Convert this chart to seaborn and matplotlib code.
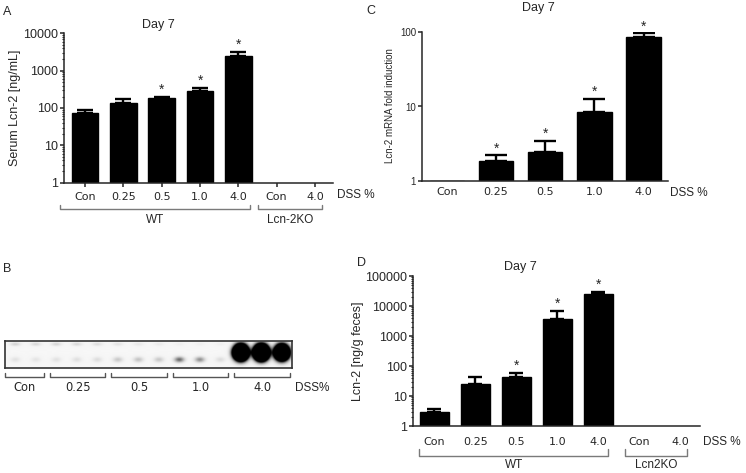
import numpy as np
import matplotlib
matplotlib.use("Agg")
import matplotlib.pyplot as plt
import matplotlib.ticker as mticker
import matplotlib.transforms as mtrans
import seaborn as sns

# ---- data ----
# A: serum Lcn-2 [ng/mL], day 7
a_keys = ["WT Con", "WT 0.25", "WT 0.5", "WT 1.0", "WT 4.0", "KO Con", "KO 4.0"]
a_ticks = ["Con", "0.25", "0.5", "1.0", "4.0", "Con", "4.0"]
a_mean = [75, 138, 183, 285, 2400, np.nan, np.nan]
a_err = [16, 37, 15, 55, 750, np.nan, np.nan]
a_star = [False, False, True, True, True, False, False]
a_groups = ["WT", "Lcn-2KO"]

# C: Lcn-2 mRNA fold induction, day 7
c_keys = ["Con", "0.25", "0.5", "1.0", "4.0"]
c_ticks = ["Con", "0.25", "0.5", "1.0", "4.0"]
c_mean = [1.0, 1.85, 2.45, 8.5, 86]
c_err = [np.nan, 0.35, 0.95, 4.1, 11]
c_star = [False, True, True, True, True]

# D: fecal Lcn-2 [ng/g feces], day 7
d_keys = a_keys
d_ticks = a_ticks
d_mean = [3.0, 25, 44, 3800, 25000, np.nan, np.nan]
d_err = [0.6, 17, 16, 3200, 5000, np.nan, np.nan]
d_star = [False, False, True, True, True, False, False]
d_groups = ["WT", "Lcn2KO"]

# B: western blot, relative band intensity per lane
blot_groups = ["Con", "0.25", "0.5", "1.0", "4.0"]
lanes_per_group = [2, 3, 3, 3, 3]
band_main = [0.08, 0.07, 0.08, 0.09, 0.10, 0.18, 0.20, 0.18, 0.55, 0.40, 0.10, 14, 16, 12]
band_upper = [0.14, 0.12, 0.13, 0.12, 0.10, 0.08, 0.06, 0.05, 0.03, 0.03, 0.03, 0.2, 0.2, 0.2]

sns.set_style("ticks")
plt.rcParams["font.family"] = ["Liberation Sans", "DejaVu Sans"]
plt.rcParams["axes.linewidth"] = 1.1

W, H = 746, 473
fig = plt.figure(figsize=(W / 100, H / 100), dpi=100)


def px(x, y):
    return x / W, 1 - y / H


def add_ax(l, t, r, b):
    return fig.add_axes([l / W, 1 - b / H, (r - l) / W, (b - t) / H])


def bars(ax, keys, means, errs, stars, capsize, ylim):
    sns.barplot(x=keys, y=means, order=keys, color="black", saturation=1,
                width=0.7, errorbar=None, edgecolor="black", ax=ax)
    ax.set_yscale("log")
    ax.set_ylim(*ylim)
    pos = np.arange(len(keys))
    m = np.array(means, dtype=float)
    e = np.array(errs, dtype=float)
    ok = ~np.isnan(e)
    ax.errorbar(pos[ok], m[ok], yerr=[np.zeros(ok.sum()), e[ok]], fmt="none",
                ecolor="black", elinewidth=1.7, capsize=capsize, capthick=1.7)
    for p, mm, ee, s in zip(pos, m, e, stars):
        if s:
            ax.annotate("*", (p, mm + ee), xytext=(0, 0), textcoords="offset points",
                        ha="center", va="bottom", fontsize=10)
    sns.despine(ax=ax)
    ax.set_xlabel("")
    ax.set_ylabel("")


def set_yticks(ax, vals, size, minor=True):
    ax.yaxis.set_major_locator(mticker.FixedLocator(vals))
    ax.yaxis.set_major_formatter(mticker.FixedFormatter([str(v) for v in vals]))
    if minor:
        ax.yaxis.set_minor_locator(mticker.LogLocator(subs=np.arange(2, 10)))
    else:
        ax.yaxis.set_minor_locator(mticker.NullLocator())
    ax.yaxis.set_minor_formatter(mticker.NullFormatter())
    ax.tick_params(axis="y", which="major", length=3, width=1.1, pad=1, labelsize=size)
    ax.tick_params(axis="y", which="minor", length=1.6, width=0.8)


def set_xticks(ax, labels, length, pad):
    ax.set_xticks(range(len(labels)))
    ax.set_xticklabels(labels, fontfamily="DejaVu Sans", fontsize=8)
    ax.tick_params(axis="x", length=length, width=1.1, pad=pad)


def bracket(ax, x0, x1, label, y_line, y_tick, y_text):
    tr = mtrans.blended_transform_factory(ax.transData, ax.transAxes)
    ax.plot([x0, x0, x1, x1], [y_tick, y_line, y_line, y_tick], transform=tr,
            clip_on=False, color="#7a7a7a", lw=1.0)
    ax.text((x0 + x1) / 2, y_text, label, transform=tr, ha="center", va="center",
            fontsize=8.5)


# ---- A ----
axA = add_ax(64, 33.3, 333, 182.7)
bars(axA, a_keys, a_mean, a_err, a_star, 5.8, (1, 10000))
axA.set_xlim(-0.55, 6.47)
set_yticks(axA, [1, 10, 100, 1000, 10000], 9)
set_xticks(axA, a_ticks, 3, 3.6)
bracket(axA, -0.65, 4.31, a_groups[0], -0.178, -0.149, -0.25)
bracket(axA, 4.52, 6.18, a_groups[1], -0.178, -0.149, -0.25)
fig.text(*px(337, 195), "DSS %", ha="left", va="center", fontsize=8.5)
fig.text(*px(15, 108), "Serum Lcn-2 [ng/mL]", rotation=90, ha="center", va="center", fontsize=9)
fig.text(*px(158, 25), "Day 7", ha="center", va="center", fontsize=9)

# ---- C ----
axC = add_ax(421.7, 32.3, 668.3, 180.7)
bars(axC, c_keys, c_mean, c_err, c_star, 8.2, (1, 100))
axC.set_xlim(-0.51, 4.5)
set_yticks(axC, [1, 10, 100], 7, minor=False)
set_xticks(axC, c_ticks, 0, 4.5)
fig.text(*px(670, 193), "DSS %", ha="left", va="center", fontsize=8.5)
fig.text(*px(390, 106), "Lcn-2 mRNA fold induction", rotation=90, ha="center", va="center", fontsize=7)
fig.text(*px(538, 8), "Day 7", ha="center", va="center", fontsize=9)

# ---- D ----
axD = add_ax(412.7, 276, 700, 426)
bars(axD, d_keys, d_mean, d_err, d_star, 4.9, (1, 100000))
axD.set_xlim(-0.53, 6.48)
set_yticks(axD, [1, 10, 100, 1000, 10000, 100000], 9)
set_xticks(axD, d_ticks, 0, 8)
bracket(axD, -0.37, 4.24, d_groups[0], -0.198, -0.155, -0.26)
bracket(axD, 4.66, 6.17, d_groups[1], -0.198, -0.155, -0.26)
fig.text(*px(703, 442), "DSS %", ha="left", va="center", fontsize=8.5)
fig.text(*px(358, 351), "Lcn-2 [ng/g feces]", rotation=90, ha="center", va="center", fontsize=9)
fig.text(*px(520, 267), "Day 7", ha="center", va="center", fontsize=9)

# ---- B: blot ----
axB = add_ax(5, 341, 291.7, 367.7)
bw, bh = 286.7, 26.7
n_lanes = sum(lanes_per_group)
lane_px = bw / n_lanes
yy, xx = np.mgrid[0:bh:0.25, 0:bw:0.25]
img = np.full(xx.shape, 0.035)
for i, (amp, up) in enumerate(zip(band_main, band_upper)):
    cx = (i + 0.5) * lane_px
    sat = min(1.0, np.log10(max(amp, 1.0)))
    cy = 18.3 - 7.0 * sat
    sx = 3.3 + 0.6 * sat
    sy = 1.8 + 2.2 * sat
    img += amp * np.exp(-((xx - cx) ** 2 / (2 * sx ** 2) + (yy - cy) ** 2 / (2 * sy ** 2)))
    img += up * np.exp(-((xx - cx) ** 2 / (2 * 3.5 ** 2) + (yy - 3.0) ** 2 / (2 * 1.2 ** 2)))
axB.imshow(img, cmap="gray_r", vmin=0, vmax=1, extent=(0, n_lanes, 1, 0),
           aspect="auto", interpolation="bilinear")
axB.set_xlim(0, n_lanes)
axB.set_ylim(1, 0)
axB.set_xticks([])
axB.set_yticks([])
for s in axB.spines.values():
    s.set_color("#333333")
    s.set_linewidth(1.2)
start = 0
for g, n in zip(blot_groups, lanes_per_group):
    x0 = start + (0.2 if start > 0 else 0.0)
    x1 = start + n - 0.1
    axB.plot([x0, x0, x1, x1], [1.2, 1.337, 1.337, 1.2], color="#555555", lw=1.0, clip_on=False)
    axB.text((x0 + x1) / 2, 1.75, g, ha="center", va="center", fontsize=8.3,
             fontfamily="DejaVu Sans")
    start += n
fig.text(*px(295, 387.7), "DSS%", ha="left", va="center", fontsize=8.5)

# panel letters
for lab, (x, y) in zip("ABCD", [(6.7, 11.7), (7.5, 269.5), (371, 11), (362, 262.5)]):
    fig.text(*px(x, y), lab, ha="center", va="center", fontsize=9)

fig.savefig("out.png", dpi=100)
